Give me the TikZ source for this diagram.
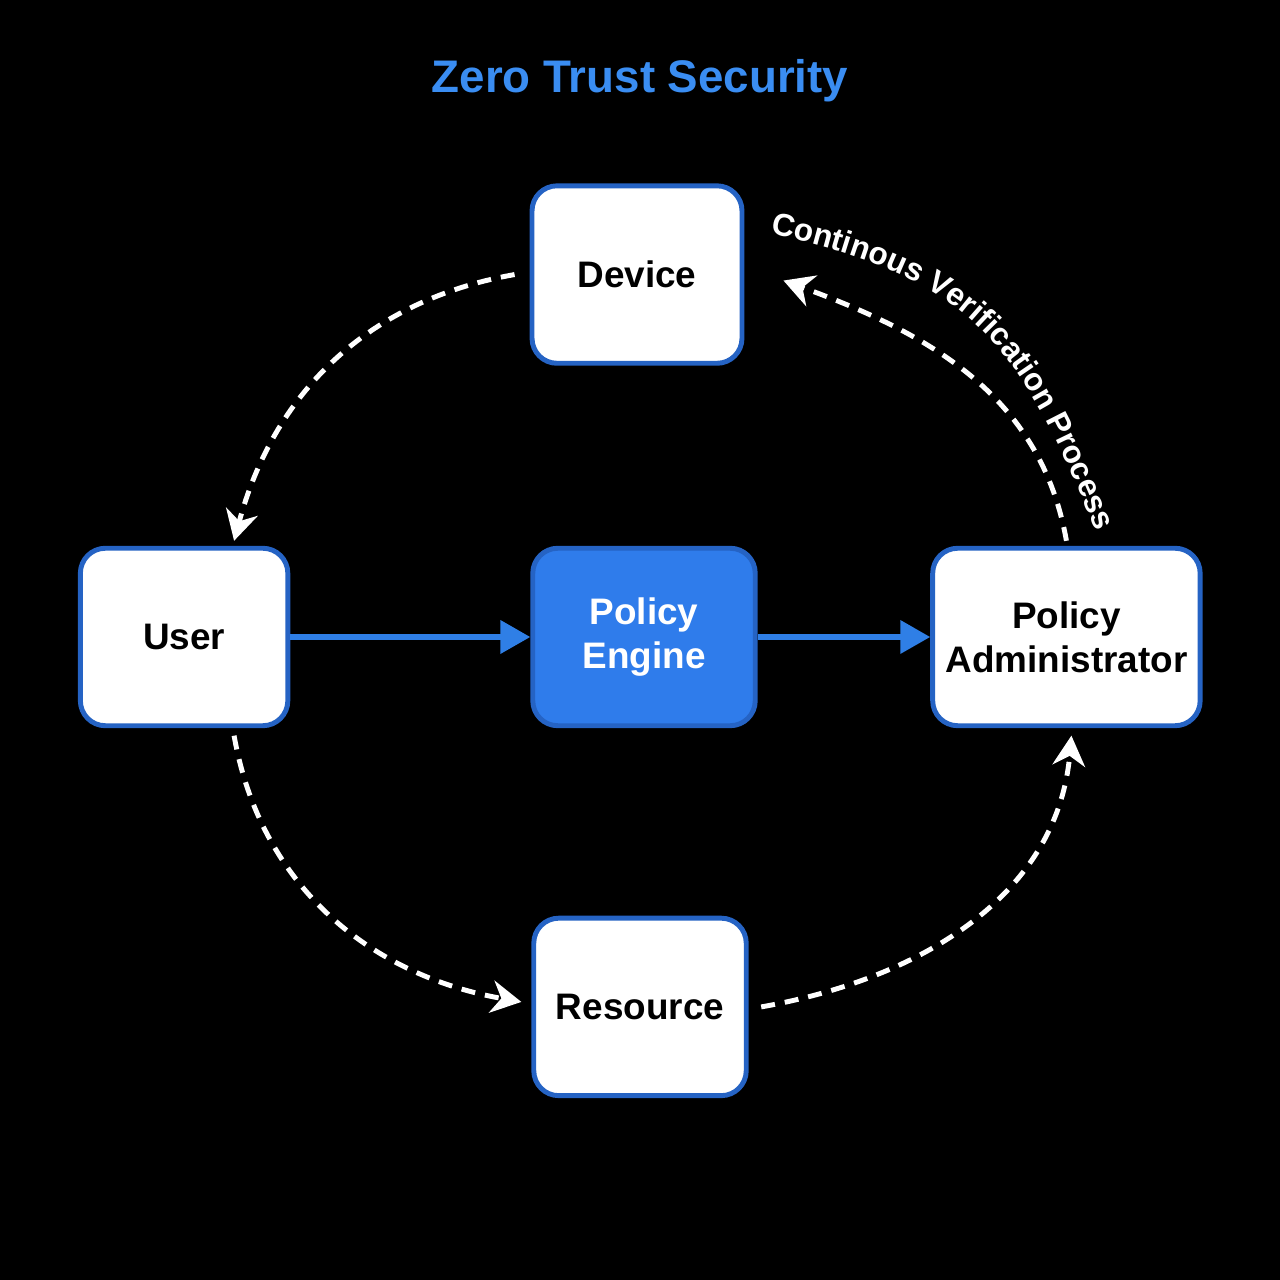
\documentclass[tikz,border=0pt]{standalone}
\usepackage{fontspec}
\setmainfont{Liberation Sans}
\usetikzlibrary{positioning,arrows.meta,decorations.text}

\definecolor{edgeblue}{HTML}{2563C4}
\definecolor{engblue}{HTML}{2F7CEB}
\definecolor{titleblue}{HTML}{3A8DF2}
\definecolor{arrblue}{HTML}{2F7FE6}

\begin{document}
\begin{tikzpicture}[x=0.02cm,y=0.02cm,
		node distance=7.3cm,on grid,
		tbox/.style={rectangle,rounded corners=0.5cm,draw=edgeblue,line width=2.8pt,
			fill=white,minimum height=3.55cm,align=center,
			font=\fontsize{21}{25}\selectfont\bfseries},
		engbox/.style={tbox,fill=engblue,text=white},
		flow/.style={draw=white,line width=2.8pt,dash pattern=on 0.28cm off 0.2cm,
			-{Stealth[length=0.6cm,width=0.65cm]}},
		push/.style={draw=arrblue,line width=3.2pt,-{Triangle[length=0.6cm,width=0.65cm]}}]
%% background and frame
   \fill[black] (0,0) rectangle (1280,1280);
   \useasboundingbox (0,0) rectangle (1280,1280);
%% title
   \node[text=titleblue,font=\fontsize{26}{30}\selectfont\bfseries] (title) at (640,1199) {Zero Trust Security};
%% boxes
   \node [engbox,minimum width=4.45cm] (eng) at (644,643)  {Policy\\Engine};
   \node [tbox,minimum width=4.15cm]  (user)  [left=9.2cm of eng]   {User};
   \node [tbox,minimum width=5.35cm]  (adm)   [right=8.45cm of eng] {Policy\\Administrator};
   \node [tbox,minimum width=4.2cm]   (dev)   [above=7.25cm of eng,xshift=-0.14cm] {Device};
   \node [tbox,minimum width=4.25cm]  (res)   [below=7.4cm of eng,xshift=-0.08cm]  {Resource};
%% solid connectors
   \draw[push] (user) -- (eng);
   \draw[push] (eng) -- (adm);
%% verification loop
   \draw[flow] ([xshift=-0.3cm]dev.west) to[out=190,in=75] ([xshift=1cm,yshift=0.1cm]user.north);
   \draw[flow] ([xshift=1cm,yshift=-0.15cm]user.south) to[out=-80,in=170] ([xshift=-0.2cm,yshift=0.1cm]res.west);
   \draw[flow] ([xshift=0.25cm]res.east) to[out=10,in=-95] ([xshift=0.1cm,yshift=-0.15cm]adm.south);
   \draw[flow] ([yshift=0.1cm]adm.north) to[out=100,in=-20] ([xshift=0.78cm,yshift=-0.12cm]dev.east);
   \path[decorate,decoration={text along path,text align=left,text color=white,
		text={|\fontsize{18}{21}\selectfont\bfseries|Continous Verification Process}}]
		(770,1046) to[out=-12,in=112,looseness=1.2] (1108,720);
\end{tikzpicture}
\end{document}
